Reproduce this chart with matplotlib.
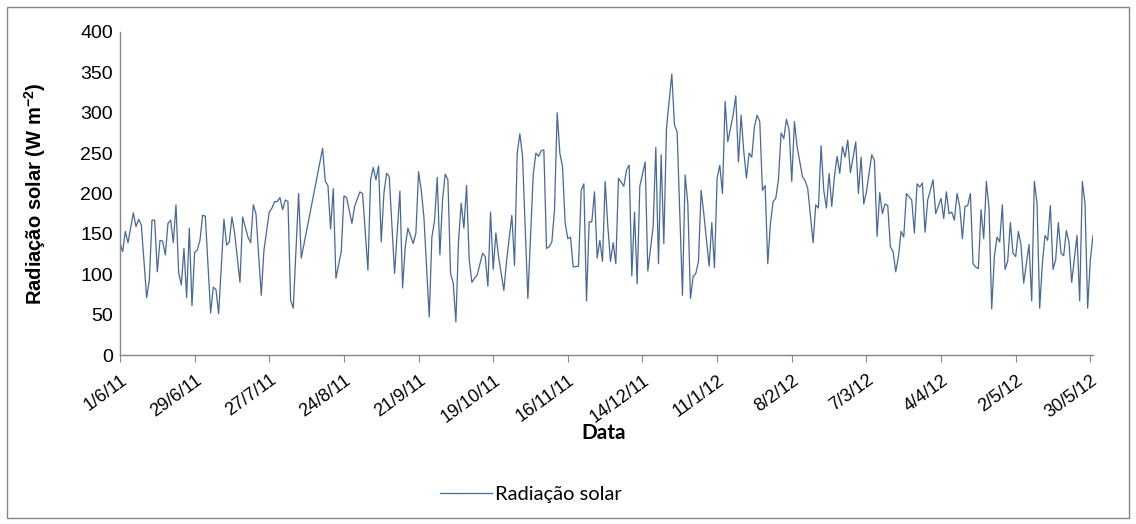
import numpy as np
import matplotlib
matplotlib.use("Agg")
import matplotlib.pyplot as plt
from matplotlib.patches import Rectangle

# ---- data ----
start_date = "2011-06-01"
day_offsets = [0, 1, 2, 3, 5, 6, 7, 8, 10, 11, 12, 13, 14, 15, 16, 17, 18, 19, 20, 21, 22, 23, 24, 25, 26, 27, 28, 29, 30, 31, 32,
               34, 35, 36, 37, 39, 40, 41, 42, 43, 45, 46, 48, 49, 50, 51, 53, 54, 56, 57, 58, 59, 60, 61, 62, 63, 64, 65, 67, 68,
               76, 77, 78, 79, 80, 81, 83, 84, 85, 87, 88, 90, 91, 93, 94, 95, 96, 97, 98, 99, 100, 101, 103, 105, 106, 107, 108,
               110, 111, 112, 113, 114, 116, 117, 118, 119, 120, 121, 122, 123, 124, 125, 126, 127, 128, 129, 130, 131, 132, 133,
               134, 136, 137, 138, 139, 140, 141, 142, 144, 145, 147, 148, 149, 150, 151, 153, 155, 156, 157, 158, 159, 160, 161,
               162, 163, 164, 165, 166, 167, 168, 169, 170, 172, 173, 174, 175, 176, 177, 178, 179, 180, 181, 182, 183, 184, 185,
               186, 187, 189, 190, 191, 192, 193, 194, 195, 197, 198, 200, 201, 202, 203, 204, 205, 207, 208, 209, 211, 212, 213,
               214, 215, 216, 217, 218, 219, 221, 222, 223, 224, 225, 226, 227, 228, 230, 231, 232, 233, 234, 235, 236, 237, 238,
               239, 240, 241, 242, 243, 244, 245, 246, 247, 248, 249, 250, 251, 252, 253, 254, 256, 257, 258, 260, 261, 262, 263,
               264, 265, 266, 267, 268, 269, 270, 271, 272, 273, 274, 276, 277, 278, 279, 280, 282, 283, 284, 285, 286, 287, 288,
               289, 290, 291, 292, 293, 294, 295, 297, 298, 299, 300, 301, 302, 303, 305, 306, 308, 309, 310, 311, 312, 313, 314,
               315, 316, 317, 318, 319, 320, 321, 322, 323, 324, 325, 326, 327, 328, 329, 330, 331, 332, 333, 334, 335, 336, 337,
               338, 339, 341, 342, 343, 344, 345, 346, 347, 348, 349, 350, 351, 352, 353, 354, 355, 356, 357, 359, 360, 361, 362,
               363, 364, 365]
radiacao = [139, 128, 153, 139, 176, 159, 168, 161, 71, 93, 167, 167, 103, 142, 141, 124, 163, 167, 139, 186, 102, 87, 132, 71, 157, 61, 127, 130, 142, 173, 172,
            52, 84, 81, 51, 168, 136, 140, 171, 151, 90, 171, 146, 139, 186, 175, 74, 130, 177, 182, 190, 190, 195, 180, 192, 190, 68, 58, 200, 120,
            256, 215, 210, 156, 206, 95, 128, 197, 195, 163, 184, 202, 200, 105, 217, 232, 217, 234, 140, 200, 225, 221, 101, 203, 83, 134, 157,
            138, 151, 227, 204, 171, 47, 146, 167, 220, 124, 192, 224, 217, 101, 89, 41, 142, 188, 157, 210, 118, 90, 95,
            99, 126, 122, 85, 177, 106, 151, 122, 80, 116, 173, 111, 250, 274, 246, 70, 223, 250, 246, 253, 254, 132, 134,
            140, 180, 300, 250, 233, 163, 144, 146, 109, 110, 204, 212, 67, 165, 165, 202, 120, 142, 116, 215, 159, 116, 139,
            113, 219, 209, 229, 235, 98, 177, 88, 209, 239, 104, 159, 257, 113, 248, 138, 281, 348, 285, 276, 74, 223, 188,
            70, 97, 101, 116, 204, 175, 110, 164, 108, 219, 235, 200, 314, 264, 297, 321, 239, 297, 252, 219, 250, 245, 283,
            297, 289, 204, 210, 113, 163, 190, 194, 217, 275, 268, 292, 279, 215, 289, 258, 221, 216, 206, 139, 186, 182, 259,
            204, 182, 225, 184, 221, 246, 225, 258, 245, 266, 226, 264, 200, 245, 187, 202, 248, 241, 147, 201, 175, 187, 185,
            134, 128, 103, 122, 153, 146, 200, 192, 151, 212, 208, 213, 152, 192, 217, 175, 194, 169, 202, 175, 177, 167, 200,
            184, 144, 184, 185, 200, 113, 109, 107, 180, 144, 215, 182, 57, 122, 146, 140, 186, 106, 116, 164, 126, 122, 153,
            136, 89, 137, 67, 215, 188, 58, 113, 148, 142, 185, 106, 118, 164, 126, 123, 154, 140, 90, 148, 67, 215, 188,
            58, 118, 148]
tick_labels = ["1/6/11", "29/6/11", "27/7/11", "24/8/11", "21/9/11", "19/10/11", "16/11/11",
               "14/12/11", "11/1/12", "8/2/12", "7/3/12", "4/4/12", "2/5/12", "30/5/12"]
y_ticks = [0, 50, 100, 150, 200, 250, 300, 350, 400]

# ---- figure ----
plt.rcParams['font.family'] = ['Liberation Sans', 'DejaVu Sans']
plt.rcParams['mathtext.fontset'] = 'custom'
plt.rcParams['mathtext.rm'] = 'Liberation Sans:bold'
plt.rcParams['mathtext.bf'] = 'Liberation Sans:bold'

W, H = 1136, 524
fig = plt.figure(figsize=(W / 100, H / 100), dpi=100)
fig.patches.append(Rectangle((7 / W, 6 / H), 1 - 14 / W, 1 - 13 / H, transform=fig.transFigure,
                             fill=False, edgecolor='#868686', linewidth=1.0))

ax = fig.add_axes([120 / W, 1 - 355 / H, (1093 - 120) / W, (355 - 32) / H])

t0 = np.datetime64(start_date)
dates = t0 + np.array(day_offsets, dtype='timedelta64[D]')
ax.plot(dates, radiacao, color='#46689a', linewidth=0.9, label='Radiação solar')

ax.set_xlim(t0, t0 + np.timedelta64(max(day_offsets), 'D'))
ax.set_ylim(0, 400)
tick_dates = t0 + np.arange(len(tick_labels)) * np.timedelta64(28, 'D')
ax.set_xticks(tick_dates)
ax.set_xticklabels(tick_labels, rotation=36, ha='right', va='top', rotation_mode='anchor', fontsize=13)
ax.set_yticks(y_ticks)
ax.set_yticklabels([str(v) for v in y_ticks], fontsize=14)

for s in ['top', 'right']:
    ax.spines[s].set_visible(False)
for s in ['left', 'bottom']:
    ax.spines[s].set_color('#868686')
    ax.spines[s].set_linewidth(1.0)
ax.tick_params(axis='x', length=5, color='#868686', pad=7)
ax.tick_params(axis='y', length=0, pad=5)

ax.set_ylabel(r'Radiação solar (W m$^{-2}$)', fontsize=14.5, fontweight='bold')
ax.yaxis.set_label_coords((48 - 120) / (1093 - 120), 0.5)
fig.text(604 / W, 1 - 433 / H, 'Data', fontsize=15, fontweight='bold', family=['Lato', 'DejaVu Sans'],
         ha='center', va='center')
leg = fig.legend(loc='center', bbox_to_anchor=(531 / W, 1 - 494 / H), frameon=False,
                 prop={'family': ['Lato', 'DejaVu Sans'], 'size': 14.5}, handlelength=2.6, handletextpad=0.15)

fig.savefig('out.png', dpi=100)
